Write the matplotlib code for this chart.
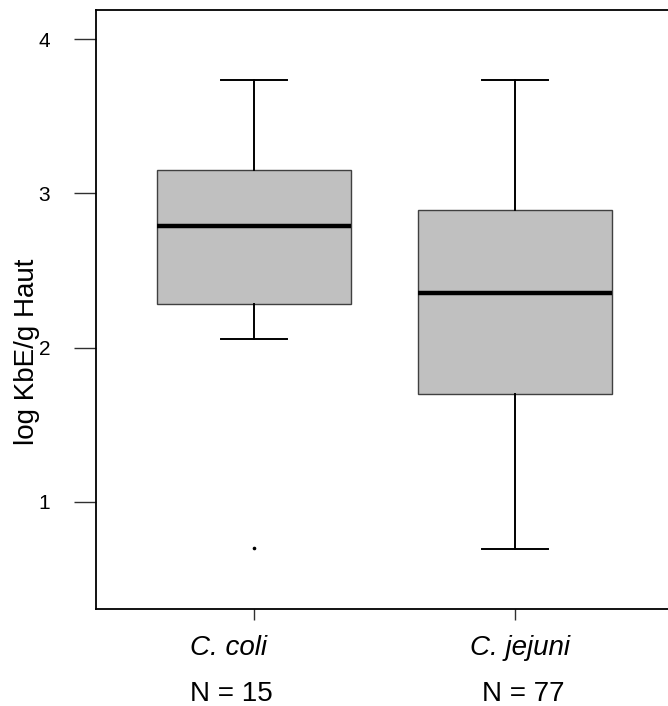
import matplotlib
matplotlib.use("Agg")
import matplotlib.pyplot as plt

# Data
categories = ["C. coli", "C. jejuni"]
counts = ["N = 15", "N = 77"]
q1 = [2.285, 1.700]
median = [2.788, 2.351]
q3 = [3.149, 2.894]
whislo = [2.058, 0.695]
whishi = [3.734, 3.734]
fliers = [[0.70], []]
yticks = [1, 2, 3, 4]

plt.rcParams['font.family'] = ['Liberation Sans', 'DejaVu Sans']

fig = plt.figure(figsize=(6.68, 7.06), dpi=100)
ax = fig.add_axes([96/668, 97/706, 1 - 96/668, 599/706])

stats = []
for i in range(len(categories)):
    stats.append(dict(med=median[i], q1=q1[i], q3=q3[i],
                      whislo=whislo[i], whishi=whishi[i],
                      fliers=fliers[i], label=categories[i]))

ax.bxp(stats, positions=[1, 2], widths=0.743, patch_artist=True,
       showfliers=True,
       boxprops=dict(facecolor='#c0c0c0', edgecolor='#404040', linewidth=1.0),
       medianprops=dict(color='black', linewidth=3.2, solid_capstyle='butt'),
       whiskerprops=dict(color='black', linewidth=1.4),
       capprops=dict(color='black', linewidth=1.4),
       capwidths=0.25,
       flierprops=dict(marker='o', markersize=1.6, markerfacecolor='black',
                       markeredgecolor='black', linestyle='none'))

ax.set_xlim(0.395, 2.586)
ax.set_ylim(0.306, 4.188)

ax.set_yticks(yticks)
ax.set_yticklabels([str(t) for t in yticks], fontsize=15)
ax.tick_params(axis='y', length=16, width=1.0, pad=17, color='#303030')
ax.set_xticks([1, 2])
ax.set_xticklabels([])
ax.tick_params(axis='x', length=8, width=1.0, color='#303030')

for s in ['left', 'top', 'bottom']:
    ax.spines[s].set_linewidth(1.3)
ax.spines['right'].set_visible(False)

# category labels and counts
label_x = [0.904, 2.02]
for i in range(len(categories)):
    ax.text(label_x[i], -0.0768, categories[i], transform=ax.get_xaxis_transform(),
            ha='center', va='baseline', fontsize=20, style='italic')
    ax.text(label_x[i] + 0.01, -0.153, counts[i], transform=ax.get_xaxis_transform(),
            ha='center', va='baseline', fontsize=20)

fig.text(27/668, 1 - 352/706, "log KbE/g Haut", rotation=90,
         ha='center', va='center', fontsize=20)

fig.savefig("out.png", dpi=100)
